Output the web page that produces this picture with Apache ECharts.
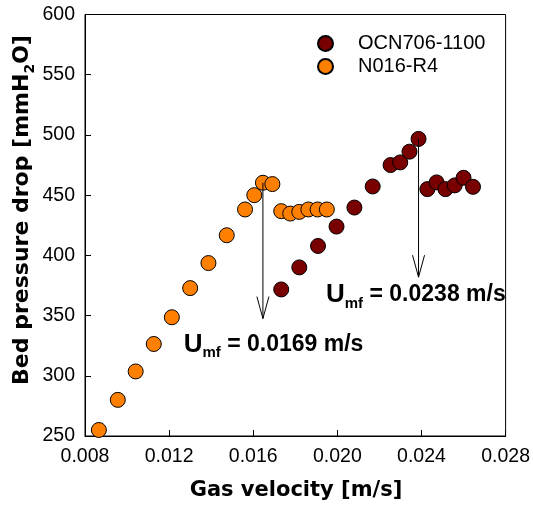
<!DOCTYPE html>
<html><head><meta charset="utf-8">
<script src="https://cdn.jsdelivr.net/npm/echarts@6/dist/echarts.min.js"></script>
<style>html,body{margin:0;padding:0;background:#fff}#c{width:533px;height:507px}</style>
</head><body><div id="c"></div>
<script>
const seriesNames = ['OCN706-1100', 'N016-R4'];
const ocnVelocity = [0.01733, 0.01819, 0.01908, 0.01996, 0.02081, 0.02168, 0.02253, 0.02299, 0.02343, 0.02386, 0.02428, 0.02472, 0.02514, 0.02558, 0.02600, 0.02645];
const ocnPressure = [371.7, 390.0, 407.8, 423.9, 439.7, 457.2, 475.0, 477.2, 486.1, 496.7, 455.0, 460.6, 455.0, 458.1, 464.4, 456.9];
const n016Velocity = [0.00866, 0.00956, 0.01041, 0.01127, 0.01213, 0.01300, 0.01387, 0.01474, 0.01561, 0.01605, 0.01646, 0.01691, 0.01733, 0.01776, 0.01819, 0.01862, 0.01906, 0.01950];
const n016Pressure = [255.0, 280.0, 303.6, 326.4, 348.6, 372.8, 393.6, 416.7, 438.1, 450.0, 460.3, 459.2, 436.7, 434.7, 436.1, 438.1, 438.1, 438.1];
const xTickValues = [0.008, 0.012, 0.016, 0.020, 0.024, 0.028];
const yTickValues = [250, 300, 350, 400, 450, 500, 550, 600];
const arrows = [
  {x: 0.01646, from: 460.3, to: 347.5},
  {x: 0.02386, from: 496.7, to: 381.9}
];
const notes = [
  {x: 0.01269, y: 325.8, text: '= 0.0169 m/s'},
  {x: 0.01946, y: 367.0, text: '= 0.0238 m/s'}
];

const zip = (a, b) => a.map((v, i) => [v, b[i]]);
const chart = echarts.init(document.getElementById('c'), null, {renderer: 'canvas'});
const tickFont = {fontFamily: 'Liberation Sans, Arial, sans-serif', fontSize: 19.5, color: '#000'};

chart.setOption({
  animation: false,
  backgroundColor: '#fff',
  grid: {left: 85, top: 14.5, right: 25, bottom: 71, show: true, borderColor: '#000', borderWidth: 1, backgroundColor: 'transparent'},
  legend: {
    orient: 'vertical', left: 312, top: 28.5, itemGap: 3,
    itemWidth: 15, itemHeight: 15, icon: 'circle',
    textStyle: {fontFamily: 'Liberation Sans, Arial, sans-serif', fontSize: 20, color: '#000', padding: [0, 0, 0, 20]},
    data: seriesNames
  },
  xAxis: {
    type: 'value', min: xTickValues[0], max: xTickValues[xTickValues.length - 1], interval: 0.004,
    axisLine: {show: true, lineStyle: {color: '#000', width: 1}},
    axisTick: {show: true, inside: true, length: 6, lineStyle: {color: '#000'}},
    axisLabel: Object.assign({margin: 11, formatter: v => v.toFixed(3)}, tickFont),
    splitLine: {show: false}
  },
  yAxis: {
    type: 'value', min: yTickValues[0], max: yTickValues[yTickValues.length - 1], interval: 50,
    axisLine: {show: true, lineStyle: {color: '#000', width: 1}},
    axisTick: {show: true, inside: true, length: 6, lineStyle: {color: '#000'}},
    axisLabel: Object.assign({margin: 10}, tickFont),
    splitLine: {show: false}
  },
  series: [
    {name: seriesNames[0], type: 'scatter', symbol: 'circle', symbolSize: 15, z: 3,
     itemStyle: {color: '#780000', borderColor: '#000', borderWidth: 1, opacity: 1},
     data: zip(ocnVelocity, ocnPressure)},
    {name: seriesNames[1], type: 'scatter', symbol: 'circle', symbolSize: 15, z: 3,
     itemStyle: {color: '#FF8000', borderColor: '#000', borderWidth: 1, opacity: 1},
     data: zip(n016Velocity, n016Pressure)}
  ]
});

const px = (x, y) => chart.convertToPixel({gridIndex: 0}, [x, y]);
const g = [];
arrows.forEach(a => {
  const p1 = px(a.x, a.from), p2 = px(a.x, a.to);
  g.push({type: 'line', z: 10, shape: {x1: p1[0], y1: p1[1], x2: p2[0], y2: p2[1]}, style: {stroke: '#000', lineWidth: 1}});
  g.push({type: 'polyline', z: 10, shape: {points: [[p2[0] - 6, p2[1] - 22], [p2[0], p2[1]], [p2[0] + 6, p2[1] - 22]]}, style: {stroke: '#000', lineWidth: 1, fill: null}});
});
const boldA = 'Liberation Sans, Arial, sans-serif';
notes.forEach(n => {
  const p = px(n.x, n.y);
  g.push({type: 'text', z: 10, x: p[0], y: p[1], style: {
    text: '{u|U}{s|mf}{t| ' + n.text + '}', align: 'left', verticalAlign: 'middle',
    rich: {
      u: {fontFamily: boldA, fontWeight: 'bold', fontSize: 26, lineHeight: 32, verticalAlign: 'middle', fill: '#000'},
      s: {fontFamily: boldA, fontWeight: 'bold', fontSize: 15, lineHeight: 15, verticalAlign: 'bottom', fill: '#000'},
      t: {fontFamily: boldA, fontWeight: 'bold', fontSize: 23, lineHeight: 32, verticalAlign: 'middle', fill: '#000'}
    }
  }});
});
const titleF = 'DejaVu Sans, Verdana, sans-serif';
g.push({type: 'text', z: 10, x: 296, y: 491, style: {text: 'Gas velocity [m/s]', align: 'center', verticalAlign: 'middle', fontFamily: titleF, fontWeight: 'bold', fontSize: 21, fill: '#000'}});
g.push({type: 'text', z: 10, x: 22, y: 210, rotation: Math.PI / 2, style: {
  text: '{b|Bed pressure drop [mmH}{s|2}{b|O]}', align: 'center', verticalAlign: 'middle',
  rich: {
    b: {fontFamily: titleF, fontWeight: 'bold', fontSize: 22, lineHeight: 30, verticalAlign: 'middle', fill: '#000'},
    s: {fontFamily: titleF, fontWeight: 'bold', fontSize: 14, lineHeight: 14, verticalAlign: 'bottom', fill: '#000'}
  }
}});
chart.setOption({graphic: g});
</script></body></html>
